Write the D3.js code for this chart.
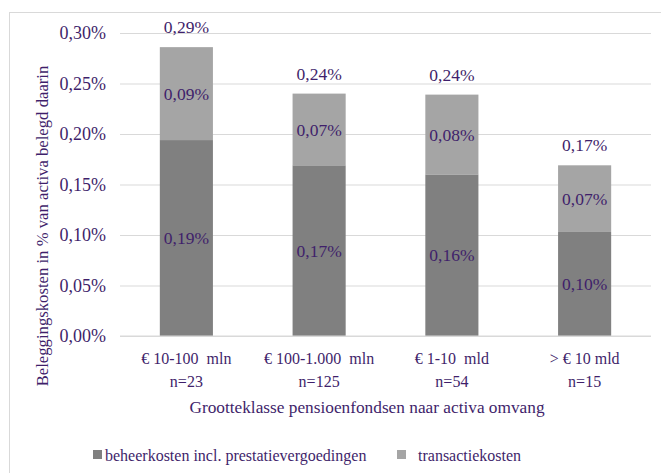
<!DOCTYPE html>
<html>
<head>
<meta charset="utf-8">
<script src="https://cdn.jsdelivr.net/npm/d3@7"></script>
<style>
  body { margin: 0; background: #fff; }
  svg text { font-family: "Liberation Serif", "Times New Roman", serif; fill: #3f1f6b; }
</style>
</head>
<body>
<div id="chart"></div>
<script>
// size classes (two-line labels) and cost components in % of assets
const categories = ["€ 10-100  mln", "€ 100-1.000  mln", "€ 1-10  mld", "> € 10 mld"];
const counts = ["n=23", "n=125", "n=54", "n=15"];
const beheerkosten = [0.194, 0.169, 0.160, 0.103];
const transactiekosten = [0.092, 0.071, 0.079, 0.066];
const totals = [0.29, 0.24, 0.24, 0.17];
const yTicks = [0, 0.05, 0.10, 0.15, 0.20, 0.25, 0.30];
const seriesNames = ["beheerkosten incl. prestatievergoedingen", "transactiekosten"];
const colors = ["#808080", "#a5a5a5"];

const W = 661, H = 473;
const margin = { top: 33, right: 10, bottom: 137, left: 120 };
const width = W - margin.left - margin.right;
const height = H - margin.top - margin.bottom;

const fmt = v => d3.format(".2f")(v).replace(".", ",") + "%";

const svg = d3.select("#chart").append("svg")
    .attr("width", W)
    .attr("height", H);

// outer frame
svg.append("rect")
    .attr("x", 9.5).attr("y", 12.5)
    .attr("width", W).attr("height", H)
    .attr("fill", "none")
    .attr("stroke", "#d9d9d9");

const g = svg.append("g")
    .attr("transform", "translate(" + margin.left + "," + margin.top + ")");

const x = d3.scaleBand()
    .domain(categories)
    .range([0, width])
    .paddingInner(0.6)
    .paddingOuter(0.3);

const y = d3.scaleLinear()
    .domain([0, 0.30])
    .range([height, 0]);

// gridlines + tick labels
const yAxis = g.append("g")
    .call(d3.axisLeft(y).tickValues(yTicks).tickSize(-width).tickPadding(14).tickFormat(fmt));
yAxis.select(".domain").remove();
yAxis.selectAll(".tick line").attr("stroke", "#d9d9d9");
yAxis.selectAll(".tick text").style("font-size", "18px");

const stacked = categories.map((c, i) => ({
    cat: c,
    segs: [
        { y0: 0, y1: beheerkosten[i], v: beheerkosten[i], k: 0 },
        { y0: beheerkosten[i], y1: beheerkosten[i] + transactiekosten[i], v: transactiekosten[i], k: 1 }
    ]
}));

const bars = g.selectAll(".bar")
    .data(stacked)
    .enter().append("g")
    .attr("class", "bar");

bars.selectAll("rect")
    .data(d => d.segs.map(s => Object.assign({ cat: d.cat }, s)))
    .enter().append("rect")
    .attr("x", d => x(d.cat))
    .attr("width", x.bandwidth())
    .attr("y", d => y(d.y1))
    .attr("height", d => y(d.y0) - y(d.y1))
    .attr("fill", d => colors[d.k]);

bars.selectAll(".seglabel")
    .data(d => d.segs.map(s => Object.assign({ cat: d.cat }, s)))
    .enter().append("text")
    .attr("class", "seglabel")
    .attr("x", d => x(d.cat) + x.bandwidth() / 2)
    .attr("y", d => (y(d.y0) + y(d.y1)) / 2)
    .attr("dy", "0.35em")
    .attr("text-anchor", "middle")
    .style("font-size", "17.5px")
    .text(d => fmt(Math.round(d.v * 100) / 100));

// totals above bars
g.selectAll(".total")
    .data(stacked)
    .enter().append("text")
    .attr("class", "total")
    .attr("x", d => x(d.cat) + x.bandwidth() / 2)
    .attr("y", (d, i) => y(beheerkosten[i] + transactiekosten[i]) - 20)
    .attr("dy", "0.35em")
    .attr("text-anchor", "middle")
    .style("font-size", "17.5px")
    .text((d, i) => fmt(totals[i]));

// baseline
g.append("line")
    .attr("x1", 0).attr("x2", width)
    .attr("y1", height).attr("y2", height)
    .attr("stroke", "#d9d9d9");

// category labels
const xl = g.selectAll(".xlab")
    .data(categories)
    .enter().append("text")
    .attr("class", "xlab")
    .attr("text-anchor", "middle")
    .attr("x", d => x(d) + x.bandwidth() / 2)
    .attr("y", height + 28)
    .style("font-size", "16px");
xl.append("tspan").attr("x", d => x(d) + x.bandwidth() / 2).style("white-space", "pre")
    .attr("xml:space", "preserve").text(d => d);
xl.append("tspan").attr("x", d => x(d) + x.bandwidth() / 2).attr("dy", 23)
    .text((d, i) => counts[i]);

// axis titles
svg.append("text")
    .attr("x", 367).attr("y", 413)
    .attr("text-anchor", "middle")
    .style("font-size", "17.3px")
    .text("Grootteklasse pensioenfondsen naar activa omvang");

svg.append("text")
    .attr("transform", "translate(48,226) rotate(-90)")
    .attr("text-anchor", "middle")
    .style("font-size", "16.7px")
    .text("Beleggingskosten in % van activa belegd daarin");

// legend
const legendX = [93, 397];
const lg = svg.selectAll(".legend")
    .data(seriesNames)
    .enter().append("g")
    .attr("class", "legend")
    .attr("transform", (d, i) => "translate(" + legendX[i] + ",455)");
lg.append("rect")
    .attr("x", 0).attr("y", -5)
    .attr("width", 9).attr("height", 9)
    .attr("fill", (d, i) => colors[i]);
lg.append("text")
    .attr("x", (d, i) => i === 0 ? 12 : 21)
    .attr("dy", "0.35em")
    .style("font-size", "16px")
    .text(d => d);
</script>
</body>
</html>
